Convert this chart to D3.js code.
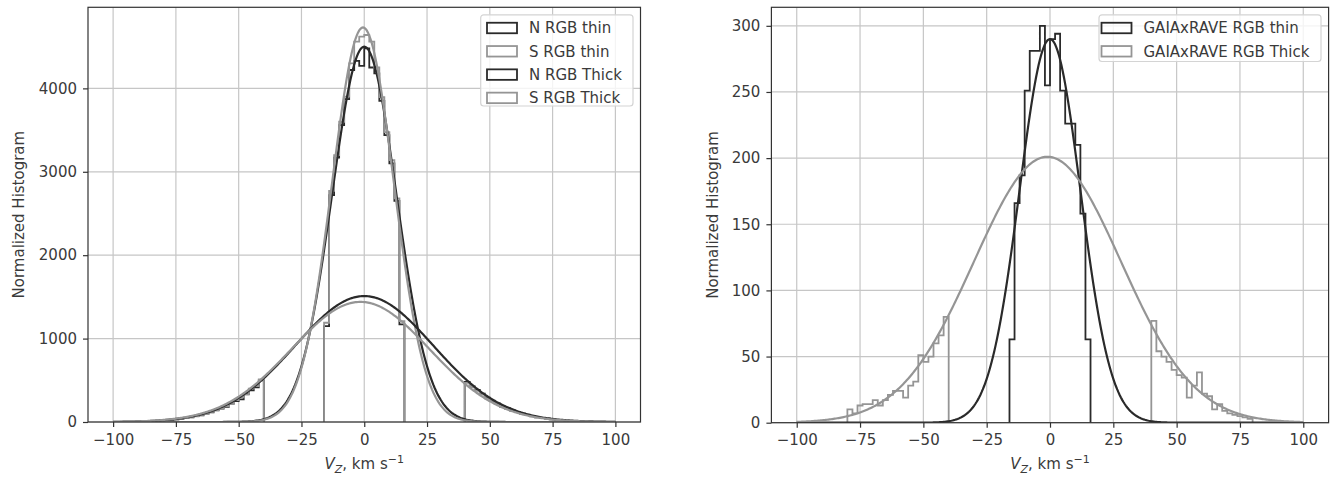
<!DOCTYPE html>
<html><head><meta charset="utf-8">
<script src="https://cdn.jsdelivr.net/npm/d3@7"></script>
<style>
body{margin:0;background:#fff}
svg{display:block}
text{font-family:"DejaVu Sans",sans-serif;fill:#3a3a3a}
</style>
</head><body>
<svg id="c" width="1333" height="479"></svg>
<script>
// ---------------- data ----------------
const xTickVals = [-100, -75, -50, -25, 0, 25, 50, 75, 100];
const yTicksLeft = [0, 1000, 2000, 3000, 4000];
const yTicksRight = [0, 50, 100, 150, 200, 250, 300];

const thinEdges = [-16, -14, -12, -10, -8, -6, -4, -2, 0, 2, 4, 6, 8, 10, 12, 14, 16];
const thickEdgesNeg = [-80, -78, -76, -74, -72, -70, -68, -66, -64, -62, -60, -58, -56, -54, -52, -50, -48, -46, -44, -42, -40];
const thickEdgesPos = [40, 42, 44, 46, 48, 50, 52, 54, 56, 58, 60, 62, 64, 66, 68, 70, 72, 74, 76, 78, 80];

// left panel histograms
const nThinLeft = [1150, 2720, 3170, 3560, 3870, 4220, 4330, 4270, 4480, 4250, 4180, 3850, 3440, 3100, 2650, 1170];
const sThinLeft = [1190, 2770, 3200, 3600, 3900, 4300, 4560, 4620, 4640, 4560, 4250, 3896, 3476, 3139, 2680, 1210];
const nThickLeftNeg = [20, 24, 33, 38, 49, 55, 72, 80, 101, 115, 142, 160, 178, 222, 250, 272, 335, 380, 415, 500];
const sThickLeftNeg = [22, 28, 30, 41, 46, 60, 68, 86, 97, 121, 136, 165, 185, 215, 262, 295, 328, 400, 430, 512];
const nThickLeftPos = [480, 425, 385, 340, 292, 252, 222, 186, 165, 140, 118, 99, 85, 70, 57, 47, 40, 31, 26, 21];
const sThickLeftPos = [468, 430, 372, 330, 285, 255, 215, 192, 158, 136, 120, 96, 82, 67, 59, 46, 38, 32, 25, 20];

// right panel histograms
const thinRight = [63, 166, 187, 251, 281, 281, 300, 255, 290, 294, 251, 226, 226, 210, 158, 63];
const thickRightNeg = [10, 7, 13, 14, 14, 17, 13, 17, 21, 24, 24, 19, 28, 31, 51, 46, 50, 60, 66, 80];
const thickRightPos = [77, 54, 50, 46, 40, 36, 34, 19, 28, 38, 22, 20, 10, 14, 9, 7, 6, 5, 4, 3];

// gaussian fits (amplitude, mean, sigma)
const fitAmpLeft = [4500, 4730, 1510, 1440];
const fitMuLeft = [0, -0.5, 0, -1.5];
const fitSigLeft = [12.8, 12.3, 27.5, 27.5];
const fitAmpRight = [290, 201];
const fitMuRight = [0, -1];
const fitSigRight = [12, 29];

const legendLeft = ["N RGB thin", "S RGB thin", "N RGB Thick", "S RGB Thick"];
const legendRight = ["GAIAxRAVE RGB thin", "GAIAxRAVE RGB Thick"];

// ---------------- drawing ----------------
const DARK = "#2a2a2a", GREY = "#959595";
const svg = d3.select("#c");
const fmt = d3.format("d");

function stepPoints(edges, vals) {
  const pts = [[edges[0], 0]];
  vals.forEach((v, i) => { pts.push([edges[i], v]); pts.push([edges[i + 1], v]); });
  pts.push([edges[edges.length - 1], 0]);
  return pts;
}
function gaussPoints(a, mu, s) {
  return d3.range(-100, 100.001, 0.5).map(v => [v, a * Math.exp(-((v - mu) ** 2) / (2 * s * s))]);
}

function panel(cfg, id) {
  const x = d3.scaleLinear().domain([-110, 110]).range([cfg.x0, cfg.x1]);
  const y = d3.scaleLinear().domain([0, cfg.ymax]).range([cfg.y1, cfg.y0]);
  const g = svg.append("g");
  g.append("clipPath").attr("id", "clip" + id).append("rect")
    .attr("x", cfg.x0).attr("y", cfg.y0).attr("width", cfg.x1 - cfg.x0).attr("height", cfg.y1 - cfg.y0);

  // grid
  g.append("g").selectAll("line").data(xTickVals).join("line")
    .attr("x1", d => x(d)).attr("x2", d => x(d)).attr("y1", cfg.y0).attr("y2", cfg.y1)
    .attr("stroke", "#c6c6c6").attr("stroke-width", 1.2);
  g.append("g").selectAll("line").data(cfg.yTicks).join("line")
    .attr("y1", d => y(d)).attr("y2", d => y(d)).attr("x1", cfg.x0).attr("x2", cfg.x1)
    .attr("stroke", "#c6c6c6").attr("stroke-width", 1.2);

  const line = d3.line().x(d => x(d[0])).y(d => y(d[1]));
  const plot = g.append("g").attr("clip-path", `url(#clip${id})`);
  cfg.hists.forEach(h => {
    plot.append("path").attr("d", line(stepPoints(h.edges, h.vals)))
      .attr("fill", "none").attr("stroke", h.color).attr("stroke-width", 1.8).attr("stroke-linejoin", "miter");
  });
  cfg.fits.forEach(f => {
    plot.append("path").attr("d", line(gaussPoints(f.a, f.mu, f.s)))
      .attr("fill", "none").attr("stroke", f.color).attr("stroke-width", 2.2);
  });

  // axes
  const ax = g.append("g").attr("transform", `translate(0,${cfg.y1})`)
    .call(d3.axisBottom(x).tickValues(xTickVals).tickSize(5).tickPadding(6).tickFormat(fmt));
  const ay = g.append("g").attr("transform", `translate(${cfg.x0},0)`)
    .call(d3.axisLeft(y).tickValues(cfg.yTicks).tickSize(5).tickPadding(6).tickFormat(fmt));
  [ax, ay].forEach(a => {
    a.select(".domain").remove();
    a.selectAll(".tick line").attr("stroke", "#333").attr("stroke-width", 1.2);
    a.selectAll(".tick text").attr("font-size", 15).attr("fill", "#3a3a3a")
      .style("font-family", '"DejaVu Sans", sans-serif');
  });
  ax.selectAll(".tick text").attr("dy", "0.78em");

  // frame
  g.append("rect").attr("x", cfg.x0).attr("y", cfg.y0).attr("width", cfg.x1 - cfg.x0).attr("height", cfg.y1 - cfg.y0)
    .attr("fill", "none").attr("stroke", "#333").attr("stroke-width", 1.2);

  // labels
  g.append("text").attr("transform", `translate(${cfg.ylabX},${(cfg.y0 + cfg.y1) / 2}) rotate(-90)`)
    .attr("text-anchor", "middle").attr("dy", "0.35em").attr("font-size", 15).text("Normalized Histogram");
  const xl = g.append("text").attr("x", (cfg.x0 + cfg.x1) / 2).attr("y", 469)
    .attr("text-anchor", "middle").attr("font-size", 15);
  xl.append("tspan").attr("font-style", "italic").text("V");
  xl.append("tspan").attr("font-style", "italic").attr("font-size", 11).attr("dy", 4).text("Z");
  xl.append("tspan").attr("dy", -4).text(", km s");
  xl.append("tspan").attr("font-size", 11).attr("dy", -6).text("\u22121");

  // legend
  const L = cfg.legend;
  const lg = g.append("g");
  lg.append("rect").attr("x", L.bx0).attr("y", L.by0).attr("width", L.bx1 - L.bx0).attr("height", L.by1 - L.by0)
    .attr("rx", 3).attr("fill", "rgba(255,255,255,0.8)").attr("stroke", "#d4d4d4").attr("stroke-width", 1.2);
  L.labels.forEach((t, i) => {
    const cy = L.row0 + i * L.rowStep;
    lg.append("rect").attr("x", L.px).attr("y", cy - 5.25).attr("width", 30).attr("height", 10.5)
      .attr("fill", "none").attr("stroke", L.colors[i]).attr("stroke-width", 1.8);
    lg.append("text").attr("x", L.px + 42).attr("y", cy).attr("dy", "0.36em").attr("font-size", 15).text(t);
  });
}

panel({
  x0: 88, x1: 640.5, y0: 7.3, y1: 422, ymax: 4972, yTicks: yTicksLeft, ylabX: 19,
  hists: [
    { edges: thinEdges, vals: nThinLeft, color: DARK },
    { edges: thinEdges, vals: sThinLeft, color: GREY },
    { edges: thickEdgesNeg, vals: nThickLeftNeg, color: DARK },
    { edges: thickEdgesPos, vals: nThickLeftPos, color: DARK },
    { edges: thickEdgesNeg, vals: sThickLeftNeg, color: GREY },
    { edges: thickEdgesPos, vals: sThickLeftPos, color: GREY }
  ],
  fits: [
    { a: fitAmpLeft[0], mu: fitMuLeft[0], s: fitSigLeft[0], color: DARK },
    { a: fitAmpLeft[1], mu: fitMuLeft[1], s: fitSigLeft[1], color: GREY },
    { a: fitAmpLeft[2], mu: fitMuLeft[2], s: fitSigLeft[2], color: DARK },
    { a: fitAmpLeft[3], mu: fitMuLeft[3], s: fitSigLeft[3], color: GREY }
  ],
  legend: { bx0: 480.7, bx1: 633, by0: 14.8, by1: 106, px: 487, row0: 28, rowStep: 23.3,
            labels: legendLeft, colors: [DARK, GREY, DARK, GREY] }
}, "L");

panel({
  x0: 771.4, x1: 1328.6, y0: 7.3, y1: 422.7, ymax: 314, yTicks: yTicksRight, ylabX: 713,
  hists: [
    { edges: thinEdges, vals: thinRight, color: DARK },
    { edges: thickEdgesNeg, vals: thickRightNeg, color: GREY },
    { edges: thickEdgesPos, vals: thickRightPos, color: GREY }
  ],
  fits: [
    { a: fitAmpRight[0], mu: fitMuRight[0], s: fitSigRight[0], color: DARK },
    { a: fitAmpRight[1], mu: fitMuRight[1], s: fitSigRight[1], color: GREY }
  ],
  legend: { bx0: 1099, bx1: 1321, by0: 14.8, by1: 61.5, px: 1101.5, row0: 28, rowStep: 23.3,
            labels: legendRight, colors: [DARK, GREY] }
}, "R");
</script>
</body></html>
